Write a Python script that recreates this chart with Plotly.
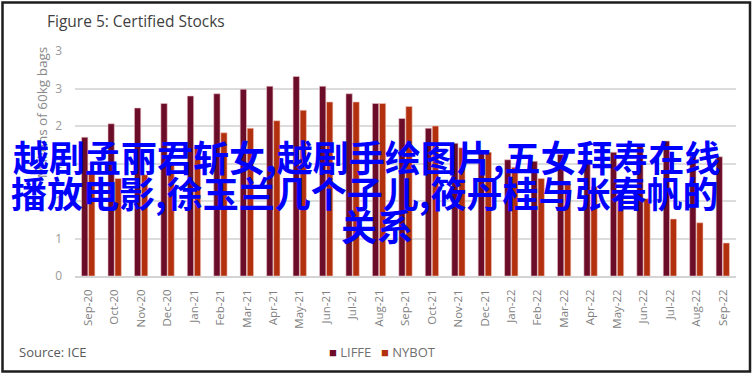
import plotly.graph_objects as go

months = ["Sep-20", "Oct-20", "Nov-20", "Dec-20", "Jan-21", "Feb-21", "Mar-21", "Apr-21",
          "May-21", "Jun-21", "Jul-21", "Aug-21", "Sep-21", "Oct-21", "Nov-21", "Dec-21",
          "Jan-22", "Feb-22", "Mar-22", "Apr-22", "May-22", "Jun-22", "Jul-22", "Aug-22", "Sep-22"]
liffe = [1.85, 2.03, 2.24, 2.30, 2.40, 2.43, 2.49, 2.53, 2.66, 2.53, 2.43, 2.30, 2.10,
         1.97, 1.77, 1.65, 1.55, 1.53, 1.62, 1.55, 1.65, 1.75, 1.80, 1.60, 1.59]
nybot = [1.40, 1.30, 1.35, 1.50, 1.71, 1.91, 1.97, 2.07, 2.21, 2.32, 2.32, 2.30, 2.26,
         2.00, 1.71, 1.65, 1.45, 1.30, 1.23, 1.19, 1.10, 1.03, 0.76, 0.71, 0.44]
y_tickvals = [0, 0.5, 1, 1.5, 2, 2.5, 3]
y_ticktext = ["0", "1", "1", "2", "2", "3", "3"]

overlay_lines = ["越剧孟丽君斩女,越剧手绘图片,五女拜寿在线",
                 "播放电影,徐玉兰几个子儿,筱丹桂与张春帆的",
                 "关系"]

W, H = 753, 375
L, R, T, B = 75, 736, 51, 276


def px2x(px):
    return (px - L) / (R - L)


def px2y(py):
    return (B - py) / (B - T)


FONT = "Open Sans, Noto Sans, sans-serif"

fig = go.Figure()
fig.add_bar(x=months, y=liffe, name="LIFFE", marker_color="#6B0C28",
            marker_line=dict(color="#EBC4C9", width=0.6))
fig.add_bar(x=months, y=nybot, name="NYBOT", marker_color="#B3300F",
            marker_line=dict(color="#F0C8BC", width=0.6))

annotations = [
    dict(text="Figure 5: Certified Stocks", x=px2x(45), y=px2y(21), xanchor="left",
         yanchor="middle", font=dict(size=15.5, color="#404040", family=FONT)),
    dict(text="Millions of 60kg bags", x=px2x(42), y=px2y(113), textangle=-90,
         xanchor="center", yanchor="middle", font=dict(size=13.5, color="#8a8a8a", family=FONT)),
    dict(text="Source: ICE", x=px2x(17), y=px2y(352), xanchor="left", yanchor="middle",
         font=dict(size=13, color="#595959", family=FONT)),
    dict(text="<span style='color:#6B0C28'>■</span> LIFFE", x=px2x(327), y=px2y(352),
         xanchor="left", yanchor="middle", font=dict(size=13, color="#707070", family=FONT)),
    dict(text="<span style='color:#B3300F'>■</span> NYBOT", x=px2x(379), y=px2y(352),
         xanchor="left", yanchor="middle", font=dict(size=13, color="#707070", family=FONT)),
]
line_x = [366, 364, 376.5]
line_y = [156, 192, 225]
for txt, xx, yy in zip(overlay_lines, line_x, line_y):
    annotations.append(dict(text="<b>" + txt + "</b>", x=px2x(xx), y=px2y(yy),
                            xanchor="center", yanchor="middle",
                            font=dict(size=36, color="#0000FF", family="Noto Sans CJK SC")))
for a in annotations:
    a.update(xref="paper", yref="paper", showarrow=False)

fig.update_layout(
    width=W, height=H,
    margin=dict(l=L, r=W - R, t=T, b=H - B, pad=0),
    paper_bgcolor="white", plot_bgcolor="white",
    barmode="group", bargap=0.47, bargroupgap=0.1,
    showlegend=False,
    annotations=annotations,
    shapes=[dict(type="rect", xref="paper", yref="paper", x0=px2x(2.5), x1=px2x(750),
                 y0=px2y(2.5), y1=px2y(371.5), line=dict(color="#1e1e1e", width=2.5),
                 fillcolor="rgba(0,0,0,0)", layer="below")],
    xaxis=dict(tickangle=-90, tickfont=dict(size=11.5, color="#7f7f7f", family=FONT),
               showgrid=False, showline=True, linecolor="#d4d4d4", linewidth=1.5,
               ticks="", ticklabelstandoff=7, fixedrange=True),
    yaxis=dict(range=[0, 3], tickvals=y_tickvals, ticktext=y_ticktext,
               tickfont=dict(size=12, color="#9a9a9a", family=FONT),
               showgrid=True, gridcolor="#dcdcdc", gridwidth=1.5, zeroline=False,
               showline=False, ticks="", ticklabelstandoff=12, fixedrange=True),
)

fig.write_html("out.html")
